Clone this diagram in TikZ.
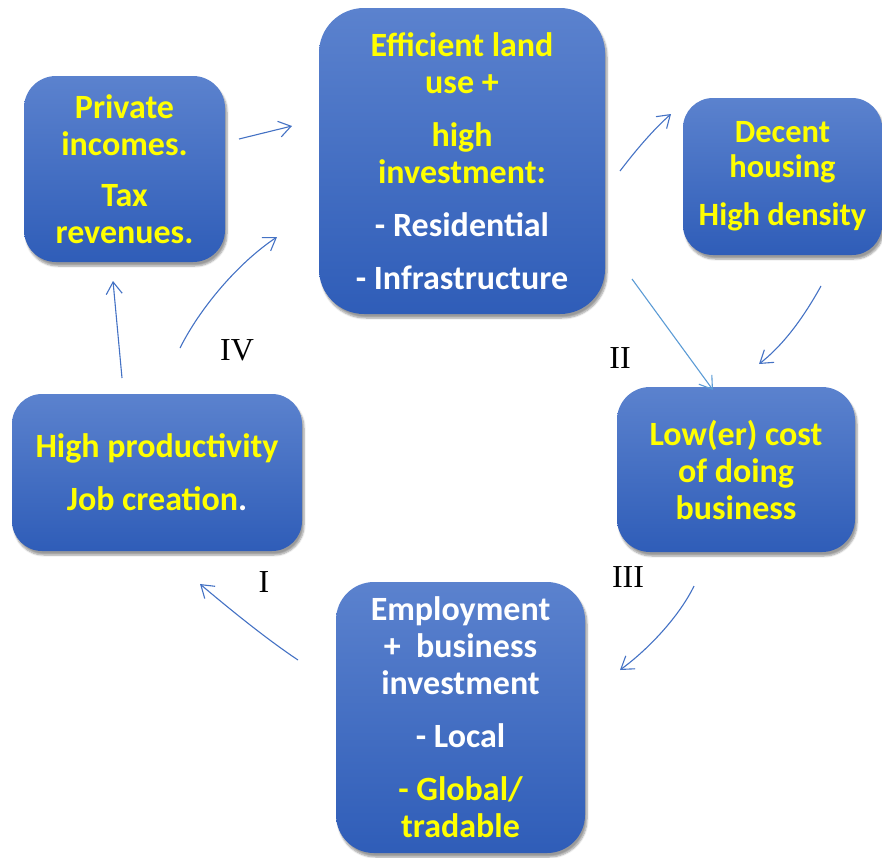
\documentclass[tikz,border=0pt]{standalone}
\usepackage{fontspec}
\setmainfont{Carlito}
\newfontfamily\romanfont{Liberation Serif}
\usetikzlibrary{arrows.meta,shadows.blur}
\definecolor{boxtop}{HTML}{5B82CE}
\definecolor{boxbot}{HTML}{2F5DB8}
\definecolor{arrowblue}{HTML}{4472C4}
\definecolor{arrowlight}{HTML}{5B9BD5}
\definecolor{txtyellow}{HTML}{FFFF00}
\newcommand{\wht}[1]{\textcolor{white}{#1}}
\tikzset{
  cyclebox/.style={rounded corners=#1, top color=boxtop, bottom color=boxbot,
    draw=none, align=center, inner sep=0pt, text=txtyellow,
    font=\bfseries\fontsize{34}{37}\selectfont,
    blur shadow={shadow xshift=2pt, shadow yshift=-4pt, shadow opacity=40, shadow blur steps=6}},
  flow/.style={draw=arrowblue, line width=1.1pt, -{Straight Barb[length=12pt,width=16pt]}},
  stage/.style={font=\romanfont\fontsize{32}{32}\selectfont, text=black, inner sep=0pt}
}
\begin{document}
\begin{tikzpicture}[x=1pt,y=-1pt]
\useasboundingbox (0,0) rectangle (882,857);

% the six stages of the cycle
\node[cyclebox=32, minimum width=201, minimum height=186] (income) at (124.5,169)
  {Private\\incomes.\\[14pt]Tax\\revenues.};
\node[cyclebox=45, minimum width=286, minimum height=306] (land) at (462,161)
  {Efficient land\\use +\\[16pt]high\\investment:\\[16pt]\wht{- Residential}\\[16pt]\wht{- Infrastructure}};
\node[cyclebox=30, minimum width=199, minimum height=157,
      font=\bfseries\fontsize{32.5}{35}\selectfont] (housing) at (782.5,176.5)
  {Decent\\housing\\[13pt]High density};
\node[cyclebox=30, minimum width=290, minimum height=157] (product) at (157,472.5)
  {High productivity\\[16pt]Job creation\wht{.}};
\node[cyclebox=38, minimum width=249, minimum height=271] (employ) at (460.5,717.5)
  {\wht{Employment}\\\wht{+~~business}\\\wht{investment}\\[16pt]\wht{- Local}\\[16pt]- Global/\\tradable};
\node[cyclebox=33, minimum width=238, minimum height=165] (cost) at (736,469.5)
  {Low(er) cost\\of doing\\business};

% free ends of the connectors
\coordinate (a1s) at (239,139);  \coordinate (a1e) at (292,126);
\coordinate (a2s) at (180,348);  \coordinate (a2e) at (277,237);
\coordinate (a3s) at (620,171);  \coordinate (a3e) at (671,114);
\coordinate (a4s) at (632,279);  \coordinate (a4e) at (713,390);
\coordinate (a5s) at (821,286);  \coordinate (a5e) at (759,364);
\coordinate (a6s) at (694,586);  \coordinate (a6e) at (620,670);
\coordinate (a7s) at (298,660);  \coordinate (a7e) at (200,584);
\coordinate (a8s) at (122,378);  \coordinate (a8e) at (113,281);

% connectors
\draw[flow] (a1s) -- (a1e);
\draw[flow] (a2s) .. controls (200,308) and (238,263) .. (a2e);
\draw[flow] (a3s) .. controls (636,150) and (653,130) .. (a3e);
\draw[flow, draw=arrowlight] (a4s) -- (a4e);
\draw[flow] (a5s) .. controls (806,313) and (786,343) .. (a5e);
\draw[flow] (a6s) .. controls (680,615) and (650,648) .. (a6e);
\draw[flow] (a7s) .. controls (265,638) and (226,606) .. (a7e);
\draw[flow] (a8s) -- (a8e);

% stage numbers
\node[stage] (s4) at (237,350) {IV};
\node[stage] (s2) at (620,358) {II};
\node[stage] (s3) at (628,577) {III};
\node[stage] (s1) at (264,582) {I};
\end{tikzpicture}
\end{document}
